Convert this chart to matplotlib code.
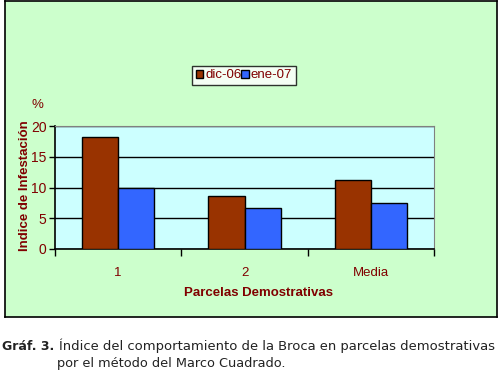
import numpy as np
import matplotlib.pyplot as plt

# ------------ Data ------------
categories = ["1", "2", "Media"]
dic_06 = [18.2, 8.6, 11.2]
ene_07 = [9.9, 6.7, 7.4]
series_names = ["dic-06", "ene-07"]
y_ticks = [0, 5, 10, 15, 20]

# ------------ Style ------------
W, H = 498, 375
DARK_RED = "#800000"
BROWN = "#993300"
BLUE = "#3366FF"
plt.rcParams["font.family"] = ["Liberation Sans", "DejaVu Sans"]

fig = plt.figure(figsize=(W / 100, H / 100), dpi=100)
fig.patch.set_facecolor("white")

def px(x0, y0, x1, y1):
    # pixel box (top-left origin) -> figure fraction rect
    return [x0 / W, 1 - y1 / H, (x1 - x0) / W, (y1 - y0) / H]

# green chart panel (own axes behind the plot)
bg = fig.add_axes(px(4.5, 0.5, 496.5, 317), zorder=-1)
bg.set_facecolor("#CCFFCC")
bg.set_xticks([])
bg.set_yticks([])
for s in bg.spines.values():
    s.set_linewidth(1.2)

ax = fig.add_axes(px(55, 126, 434, 249))
ax.set_facecolor("#CCFFFF")

x = np.arange(len(categories))
w = 1 / 3.5
ax.bar(x - w / 2, dic_06, w, color=BROWN, edgecolor="black", linewidth=1, zorder=3, label=series_names[0])
ax.bar(x + w / 2, ene_07, w, color=BLUE, edgecolor="black", linewidth=1, zorder=3, label=series_names[1])

ax.set_xlim(-0.5, len(categories) - 0.5)
ax.set_ylim(0, 20)
ax.set_yticks(y_ticks)
ax.yaxis.grid(True, color="black", linewidth=1)
ax.set_axisbelow(True)
ax.set_xticks(np.arange(len(categories) + 1) - 0.5)
ax.set_xticklabels([])
ax.set_xticks(x, minor=True)
ax.set_xticklabels(categories, minor=True)
ax.tick_params(axis="x", which="minor", length=0, pad=13, labelsize=9.5, labelcolor=DARK_RED)
ax.tick_params(axis="x", which="major", length=5, width=1, direction="out")
ax.tick_params(axis="y", length=4, width=1, direction="out", labelsize=10, labelcolor=DARK_RED, pad=2)
for s in ["top", "right"]:
    ax.spines[s].set_color("#808080")
for s in ["left", "bottom"]:
    ax.spines[s].set_color("black")
    ax.spines[s].set_linewidth(1.2)

fig.text(258 / W, 1 - 293 / H, "Parcelas Demostrativas", fontsize=9.5, fontweight="bold",
         color=DARK_RED, ha="center", va="center")
fig.text(25 / W, 1 - 186 / H, "Indice de Infestación", fontsize=9.5, fontweight="bold",
         color=DARK_RED, ha="center", va="center", rotation=90)
fig.text(37 / W, 1 - 105 / H, "%", fontsize=9.5, color=DARK_RED, ha="center", va="center")

leg = ax.legend(loc="center", bbox_to_anchor=(244 / W, 1 - 75.5 / H), bbox_transform=fig.transFigure,
                ncol=2, frameon=True, fancybox=False, fontsize=9.5, handlelength=0.55, handleheight=0.6,
                handletextpad=0.15, columnspacing=0.0, borderpad=0.3, borderaxespad=0)
leg.get_frame().set_edgecolor("black")
leg.get_frame().set_linewidth(1)
for t in leg.get_texts():
    t.set_color(DARK_RED)

# caption
fig.text(2 / W, 1 - 346 / H, "Gráf. 3.", fontsize=9, fontweight="bold", family="DejaVu Sans", va="center", color="#222222")
fig.text(59 / W, 1 - 346 / H, "Índice del comportamiento de la Broca en parcelas demostrativas",
         fontsize=9.45, family="DejaVu Sans", va="center", color="#222222")
fig.text(57 / W, 1 - 364 / H, "por el método del Marco Cuadrado.",
         fontsize=9.3, family="DejaVu Sans", va="center", color="#222222")

fig.savefig("out.png", dpi=100)
